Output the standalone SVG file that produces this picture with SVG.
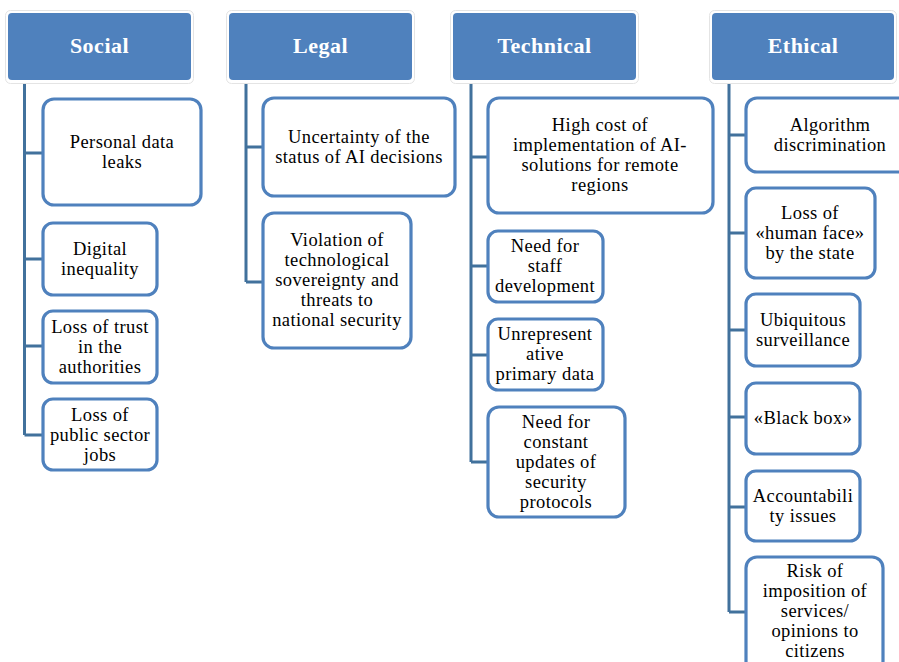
<svg xmlns="http://www.w3.org/2000/svg" width="899" height="662" viewBox="0 0 899 662">
<style>
.hdr-halo{fill:#ffffff;stroke:#e4e4e4;stroke-width:1}
.hdr{fill:#4F81BD;stroke:none}
.ht{font-family:'Liberation Serif',Tinos,'Times New Roman',Times,'DejaVu Serif',serif;font-size:22px;letter-spacing:0.5px;font-weight:bold;fill:#ffffff;text-anchor:middle}
.box{fill:#ffffff;stroke:#4F81BD;stroke-width:3.2}
.t{font-family:'Liberation Serif',Tinos,'Times New Roman',Times,'DejaVu Serif',serif;font-size:18.5px;letter-spacing:0.4px;fill:#000000;text-anchor:middle}
.c{fill:none;stroke:#41719C;stroke-width:3}
</style>
<rect width="899" height="662" fill="#ffffff"/>
<g id="connectors">
<path class="c" d="M24.5,80 V435 M24.5,153 H43 M24.5,259 H43 M24.5,346 H43 M24.5,435 H43"/>
<path class="c" d="M246,80 V282 M246,147 H263 M246,282 H263"/>
<path class="c" d="M471,80 V462 M471,157 H488 M471,266 H488 M471,355 H488 M471,462 H488"/>
<path class="c" d="M729,80 V612 M729,135 H746 M729,233 H746 M729,330 H746 M729,417 H746 M729,507 H746 M729,612 H746"/>
</g>
<g id="social">
<rect class="hdr-halo" x="5.5" y="10.5" width="188" height="73" rx="5"/>
<rect class="hdr" x="8" y="13" width="183" height="67" rx="4"/>
<text class="ht" x="99.5" y="53">Social</text>
</g>
<g id="legal">
<rect class="hdr-halo" x="226.5" y="10.5" width="188" height="73" rx="5"/>
<rect class="hdr" x="229" y="13" width="183" height="67" rx="4"/>
<text class="ht" x="320.5" y="53">Legal</text>
</g>
<g id="technical">
<rect class="hdr-halo" x="450.5" y="10.5" width="188" height="73" rx="5"/>
<rect class="hdr" x="453" y="13" width="183" height="67" rx="4"/>
<text class="ht" x="544.5" y="53">Technical</text>
</g>
<g id="ethical">
<rect class="hdr-halo" x="709.5" y="10.5" width="187" height="73" rx="5"/>
<rect class="hdr" x="712" y="13" width="182" height="67" rx="4"/>
<text class="ht" x="803" y="53">Ethical</text>
</g>
<g id="s1"><rect class="box" x="43" y="99" width="158" height="106" rx="11"/>
<text class="t" x="122" y="148">Personal data</text><text class="t" x="122" y="168">leaks</text></g>
<g id="s2"><rect class="box" x="43" y="223" width="114" height="72" rx="10"/>
<text class="t" x="100" y="255">Digital</text><text class="t" x="100" y="275">inequality</text></g>
<g id="s3"><rect class="box" x="43" y="311" width="114" height="72" rx="10"/>
<text class="t" x="100" y="333">Loss of trust</text><text class="t" x="100" y="353">in the</text><text class="t" x="100" y="373">authorities</text></g>
<g id="s4"><rect class="box" x="43" y="399" width="114" height="71" rx="10"/>
<text class="t" x="100" y="421">Loss of</text><text class="t" x="100" y="441">public sector</text><text class="t" x="100" y="461">jobs</text></g>
<g id="l1"><rect class="box" x="263" y="98" width="192" height="98" rx="11"/>
<text class="t" x="359" y="143">Uncertainty of the</text><text class="t" x="359" y="163">status of AI decisions</text></g>
<g id="l2"><rect class="box" x="263" y="213" width="148" height="135" rx="11"/>
<text class="t" x="337" y="246">Violation of</text><text class="t" x="337" y="266">technological</text><text class="t" x="337" y="286">sovereignty and</text><text class="t" x="337" y="306">threats to</text><text class="t" x="337" y="326">national security</text></g>
<g id="t1"><rect class="box" x="488" y="98" width="225" height="115" rx="11"/>
<text class="t" x="600" y="131">High cost of</text><text class="t" x="600" y="151">implementation of AI-</text><text class="t" x="600" y="171">solutions for remote</text><text class="t" x="600" y="191">regions</text></g>
<g id="t2"><rect class="box" x="488" y="231" width="115" height="71" rx="10"/>
<text class="t" x="545" y="252">Need for</text><text class="t" x="545" y="272">staff</text><text class="t" x="545" y="292">development</text></g>
<g id="t3"><rect class="box" x="488" y="319" width="115" height="71" rx="10"/>
<text class="t" x="545" y="340">Unrepresent</text><text class="t" x="545" y="360">ative</text><text class="t" x="545" y="380">primary data</text></g>
<g id="t4"><rect class="box" x="488" y="407" width="137" height="110" rx="11"/>
<text class="t" x="556" y="428">Need for</text><text class="t" x="556" y="448">constant</text><text class="t" x="556" y="468">updates of</text><text class="t" x="556" y="488">security</text><text class="t" x="556" y="508">protocols</text></g>
<g id="e1"><rect class="box" x="746" y="98" width="170" height="74" rx="11"/>
<text class="t" x="830" y="131">Algorithm</text><text class="t" x="830" y="151">discrimination</text></g>
<g id="e2"><rect class="box" x="746" y="188" width="129" height="90" rx="10"/>
<text class="t" x="810" y="219">Loss of</text><text class="t" x="810" y="239">«human face»</text><text class="t" x="810" y="259">by the state</text></g>
<g id="e3"><rect class="box" x="746" y="294" width="114" height="72" rx="10"/>
<text class="t" x="803" y="326">Ubiquitous</text><text class="t" x="803" y="346">surveillance</text></g>
<g id="e4"><rect class="box" x="746" y="383" width="114" height="71" rx="10"/>
<text class="t" x="803" y="424">«Black box»</text></g>
<g id="e5"><rect class="box" x="746" y="471" width="114" height="70" rx="10"/>
<text class="t" x="803" y="502">Accountabili</text><text class="t" x="803" y="522">ty issues</text></g>
<g id="e6"><rect class="box" x="746" y="557" width="137" height="115" rx="11"/>
<text class="t" x="815" y="577">Risk of</text><text class="t" x="815" y="597">imposition of</text><text class="t" x="815" y="617">services/</text><text class="t" x="815" y="637">opinions to</text><text class="t" x="815" y="657">citizens</text></g>
</svg>
